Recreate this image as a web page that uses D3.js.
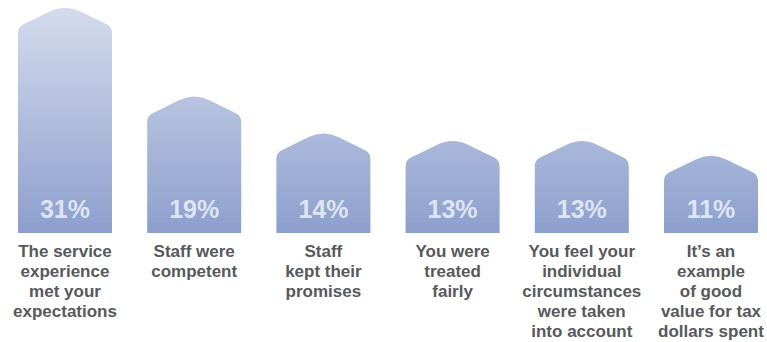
<!DOCTYPE html>
<html>
<head>
<meta charset="utf-8">
<script src="https://cdn.jsdelivr.net/npm/d3@7"></script>
<style>
  html, body { margin: 0; padding: 0; background: #ffffff; }
  svg { display: block; }
</style>
</head>
<body>
<svg id="chart" width="767" height="342"></svg>
<script>
// Survey results: share of respondents naming each factor
const categories = [
  ["The service", "experience", "met your", "expectations"],
  ["Staff were", "competent"],
  ["Staff", "kept their", "promises"],
  ["You were", "treated", "fairly"],
  ["You feel your", "individual", "circumstances", "were taken", "into account"],
  ["It\u2019s an", "example", "of good", "value for tax", "dollars spent"]
];
const values = [31, 19, 14, 13, 13, 11];
const valueLabels = ["31%", "19%", "14%", "13%", "13%", "11%"];

const svg = d3.select("#chart");
const baseY = 233;

const x = d3.scaleBand()
  .domain(d3.range(values.length))
  .range([18, 758])
  .paddingInner(0.2724)
  .paddingOuter(0);

// roof-apex scale (control point of the rounded peak)
const y = d3.scaleLinear().domain([0, 31]).range([baseY + 0.4, 4]);

// gradient spanning the whole plot, light at top, deeper blue at bottom
const defs = svg.append("defs");
const grad = defs.append("linearGradient")
  .attr("id", "barGrad")
  .attr("gradientUnits", "userSpaceOnUse")
  .attr("x1", 0).attr("x2", 0)
  .attr("y1", 7).attr("y2", baseY);
grad.append("stop").attr("offset", 0).attr("stop-color", "#d4dbec");
grad.append("stop").attr("offset", 1).attr("stop-color", "#8c9fcd");

// house-shaped bar: straight sides, sloped roof with rounded shoulders and peak
function housePath(left, w, peak, bottom) {
  const cx = left + w / 2;
  const rise = 23;
  const sh = peak + rise;
  const len = Math.hypot(w / 2, rise);
  const ux = (w / 2) / len, uy = rise / len;
  const rs = 6, rp = 17;
  const p = d3.path();
  p.moveTo(left, bottom);
  p.lineTo(left, sh + rs);
  p.quadraticCurveTo(left, sh, left + rs * ux, sh - rs * uy);
  p.lineTo(cx - rp * ux, peak + rp * uy);
  p.quadraticCurveTo(cx, peak, cx + rp * ux, peak + rp * uy);
  p.lineTo(left + w - rs * ux, sh - rs * uy);
  p.quadraticCurveTo(left + w, sh, left + w, sh + rs);
  p.lineTo(left + w, bottom);
  p.closePath();
  return p.toString();
}

const g = svg.append("g");

g.selectAll("path.bar")
  .data(values)
  .join("path")
  .attr("class", "bar")
  .attr("d", (d, i) => housePath(x(i), x.bandwidth(), y(d), baseY))
  .attr("fill", "url(#barGrad)");

g.selectAll("text.value")
  .data(valueLabels)
  .join("text")
  .attr("class", "value")
  .attr("x", (d, i) => x(i) + x.bandwidth() / 2)
  .attr("y", 218)
  .attr("text-anchor", "middle")
  .attr("font-family", "'Liberation Sans', Arial, Helvetica, sans-serif")
  .attr("font-weight", "bold")
  .attr("font-size", 25)
  .attr("fill", "#dfe4f1")
  .text(d => d);

const labels = g.selectAll("text.cat")
  .data(categories)
  .join("text")
  .attr("class", "cat")
  .attr("x", (d, i) => x(i) + x.bandwidth() / 2)
  .attr("y", 257)
  .attr("text-anchor", "middle")
  .attr("font-family", "'Liberation Sans', Arial, Helvetica, sans-serif")
  .attr("font-weight", "bold")
  .attr("font-size", 17)
  .attr("fill", "#58595b");

labels.each(function(lines, i) {
  const t = d3.select(this);
  lines.forEach((line, k) => {
    t.append("tspan")
      .attr("x", x(i) + x.bandwidth() / 2)
      .attr("dy", k === 0 ? 0 : 20)
      .text(line);
  });
});
</script>
</body>
</html>
